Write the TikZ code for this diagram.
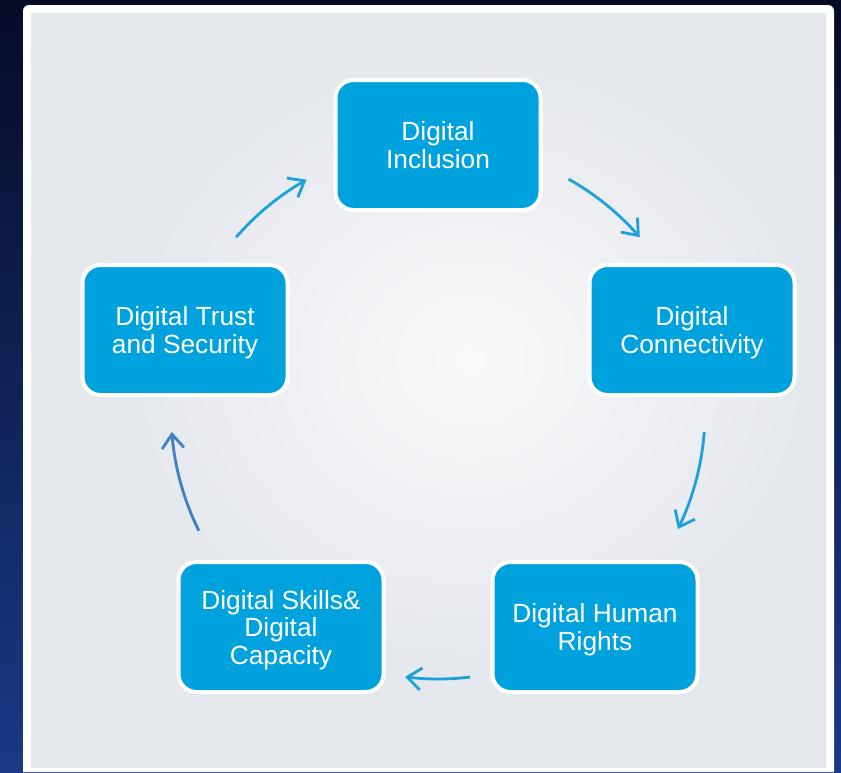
\documentclass[tikz,border=0pt]{standalone}
\usepackage{fontspec}
\setmainfont{Liberation Sans}
\usetikzlibrary{arrows.meta,bending}
\definecolor{boxblue}{HTML}{00A2DE}
\definecolor{arrcyan}{HTML}{1BA1DD}
\definecolor{arrsteel}{HTML}{3F7FC4}
\definecolor{panelgray}{HTML}{E5E8ED}
\definecolor{navytop}{HTML}{060B26}
\definecolor{navybot}{HTML}{1A3A86}
\begin{document}
\begin{tikzpicture}[x=1pt,y=-1pt,
  box/.style={draw=white,line width=4pt,fill=boxblue,rounded corners=18pt,
    minimum width=205pt,minimum height=130pt,align=center,text=white,
    text depth=0pt,font=\fontsize{26.3}{27.5}\selectfont},
  arr/.style={draw=arrcyan,line width=2.8pt,
    -{Straight Barb[length=14pt,width=22pt,flex]}}]
\useasboundingbox (0,0) rectangle (841,772);
\shade[top color=navytop,bottom color=navybot] (0,0) rectangle (841,772);
\fill[white] (23,772) [rounded corners=6pt] -- (23,5) -- (834,5) [sharp corners] -- (834,772) -- cycle;
\fill[panelgray] (31,13) rectangle (826,768);
\shade[inner color=white!75!panelgray,outer color=panelgray] (470,360) ellipse (340 and 300);
\coordinate (c) at (438,412);
\node[box] (incl) at (438,145) {Digital\\Inclusion};
\node[box] (conn) at (692,330) {Digital\\Connectivity};
\node[box] (hr) at (595,627) {Digital Human\\Rights};
\node[box] (skills) at (281,627) {Digital Skills\&\\Digital\\Capacity};
\node[box] (trust) at (185,330) {Digital Trust\\and Security};
\draw[arr] (c) ++(-60.7:267) arc[start angle=-60.7,end angle=-40.9,radius=267];
\draw[arr] (c) ++(4.3:267) arc[start angle=4.3,end angle=26,radius=267];
\draw[arr] (c) ++(83.1:267) arc[start angle=83.1,end angle=97.1,radius=267];
\draw[arr,draw=arrsteel] (c) ++(153.6:267) arc[start angle=153.6,end angle=175.7,radius=267];
\draw[arr] (c) ++(-139.1:267) arc[start angle=-139.1,end angle=-119.5,radius=267];
\end{tikzpicture}
\end{document}
